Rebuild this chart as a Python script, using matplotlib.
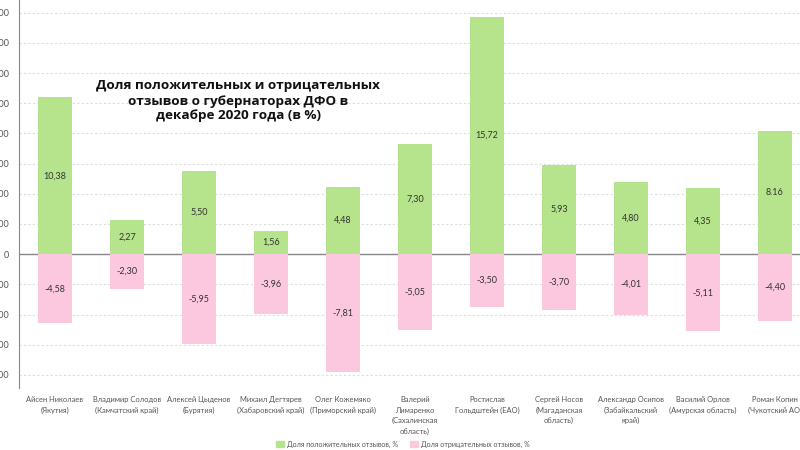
import numpy as np
import matplotlib
matplotlib.use('Agg')
import matplotlib.pyplot as plt
from matplotlib.patches import Patch

# governors and their regions
names = ['Айсен Николаев\n(Якутия)', 'Владимир Солодов\n(Камчатский край)',
         'Алексей Цыденов\n(Бурятия)', 'Михаил Дегтярев\n(Хабаровский край)',
         'Олег Кожемяко\n(Приморский край)', 'Валерий\nЛимаренко\n(Сахалинская\nобласть)',
         'Ростислав\nГольдштейн (ЕАО)', 'Сергей Носов\n(Магаданская\nобласть)',
         'Александр Осипов\n(Забайкальский\nкрай)', 'Василий Орлов\n(Амурская область)',
         'Роман Копин\n(Чукотский АО)']
positive = [10.38, 2.27, 5.50, 1.56, 4.48, 7.30, 15.72, 5.93, 4.80, 4.35, 8.16]
negative = [-4.58, -2.30, -5.95, -3.96, -7.81, -5.05, -3.50, -3.70, -4.01, -5.11, -4.40]
pos_labels = ['10,38', '2,27', '5,50', '1,56', '4,48', '7,30', '15,72', '5,93', '4,80', '4,35', '8.16']
neg_labels = ['-4,58', '-2,30', '-5,95', '-3,96', '-7,81', '-5,05', '-3,50', '-3,70', '-4,01', '-5,11', '-4,40']
yticks = [-800, -600, -400, -200, 0, 200, 400, 600, 800, 1000, 1200, 1400, 1600]

GREEN = '#b5e48c'
PINK = '#fcc8e0'
TXT = '#555555'

plt.rcParams['font.family'] = ['Lato', 'DejaVu Sans']

fig = plt.figure(figsize=(8, 4.5), dpi=100)
# axes deliberately run off the left/right edge like the cropped original
ax = fig.add_axes([19/800, (450-388)/450, 792/800, 388/450])

x = np.arange(len(names))
pos_h = np.array(positive) * 100
neg_h = np.array(negative) * 100
ax.bar(x, pos_h, width=0.48, color=GREEN, zorder=2)
ax.bar(x, neg_h, width=0.48, color=PINK, zorder=2)

for i in range(len(x)):
    ax.text(x[i], pos_h[i] / 2, pos_labels[i], ha='center', va='center', fontsize=6.5, color='#333333', zorder=3)
    ax.text(x[i], neg_h[i] / 2, neg_labels[i], ha='center', va='center', fontsize=6.5, color='#333333', zorder=3)

ax.set_xlim(-0.5, 10.5)
ax.set_ylim(-887, 1684)
ax.set_yticks(yticks)
ax.set_yticklabels([str(abs(v)) if v != 0 else '0' for v in yticks], fontsize=6.5, color=TXT)
for v in yticks:
    if v == 0:
        ax.axhline(0, color='#888888', lw=1, zorder=1)
    else:
        ax.axhline(v, color='#dddddd', lw=0.8, ls=(0, (2, 2)), zorder=1)

ax.set_xticks(x)
ax.set_xticklabels(names, fontsize=5.4, color=TXT, linespacing=1.55, va='top')
ax.tick_params(axis='x', length=0, pad=6)
ax.tick_params(axis='y', length=0, pad=7)
for s in ['top', 'right', 'bottom']:
    ax.spines[s].set_visible(False)
ax.spines['left'].set_color('#888888')

fig.text(238/800, 1 - 101/450, 'Доля положительных и отрицательных\nотзывов о губернаторах ДФО в\nдекабре 2020 года (в %)',
         ha='center', va='center', fontsize=9.7, fontweight='bold', family=['Open Sans', 'DejaVu Sans'],
         color='#111111', linespacing=1.2)

handles = [Patch(color=GREEN, label='Доля положительных отзывов, %'),
           Patch(color=PINK, label='Доля отрицательных отзывов, %')]
fig.legend(handles=handles, loc='center', bbox_to_anchor=(403/800, 1 - 444/450), ncol=2, frameon=False,
           fontsize=5.1, labelcolor=TXT, handlelength=1.1, handleheight=1.1,
           handletextpad=0.5, columnspacing=1.6)

fig.savefig('out.png', dpi=100)
